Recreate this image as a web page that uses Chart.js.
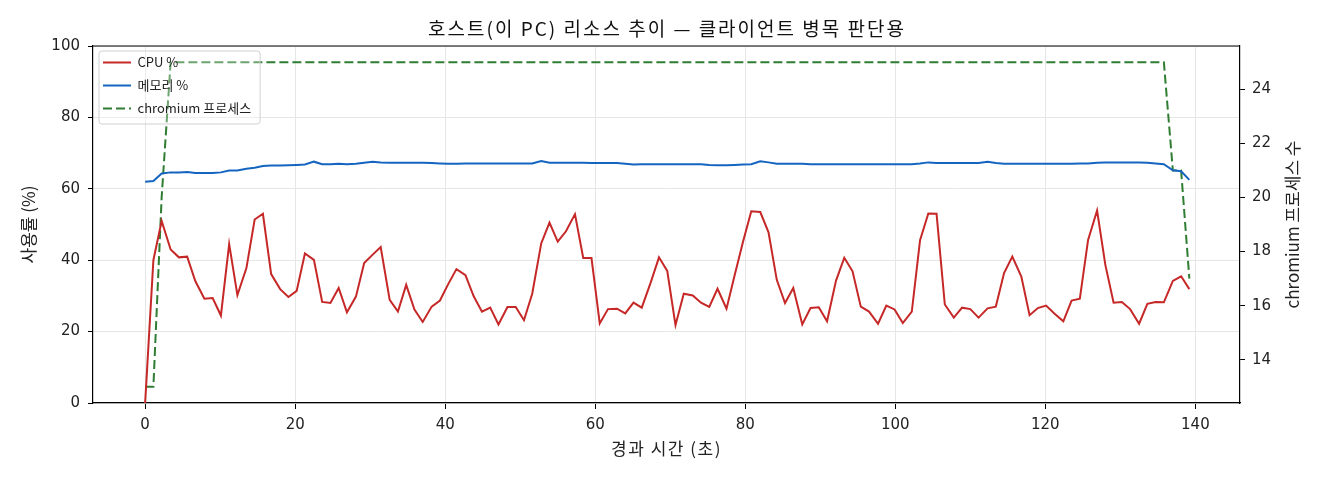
<!DOCTYPE html>
<html>
<head>
<meta charset="utf-8">
<script src="https://cdn.jsdelivr.net/npm/chart.js@4.4.1/dist/chart.umd.min.js"></script>
<style>
  html, body { margin: 0; background: #fff; }
  #wrap { width: 1320px; height: 480px; }
</style>
</head>
<body>
<div id="wrap"><canvas id="chart"></canvas></div>
<script>
// elapsed seconds of each sample
const times = [
  0.0, 1.1, 2.2, 3.4, 4.5, 5.6, 6.7, 7.9, 9.0, 10.1,
  11.2, 12.3, 13.5, 14.6, 15.7, 16.8, 18.0, 19.1, 20.2, 21.3,
  22.5, 23.6, 24.7, 25.8, 26.9, 28.1, 29.2, 30.3, 31.4, 32.6,
  33.7, 34.8, 35.9, 37.0, 38.2, 39.3, 40.4, 41.5, 42.7, 43.8,
  44.9, 46.0, 47.1, 48.3, 49.4, 50.5, 51.6, 52.8, 53.9, 55.0,
  56.1, 57.3, 58.4, 59.5, 60.6, 61.7, 62.9, 64.0, 65.1, 66.2,
  67.4, 68.5, 69.6, 70.7, 71.8, 73.0, 74.1, 75.2, 76.3, 77.5,
  78.6, 79.7, 80.8, 82.0, 83.1, 84.2, 85.3, 86.4, 87.6, 88.7,
  89.8, 90.9, 92.1, 93.2, 94.3, 95.4, 96.5, 97.7, 98.8, 99.9,
  101.0, 102.2, 103.3, 104.4, 105.5, 106.6, 107.8, 108.9, 110.0, 111.1,
  112.3, 113.4, 114.5, 115.6, 116.8, 117.9, 119.0, 120.1, 121.2, 122.4,
  123.5, 124.6, 125.7, 126.9, 128.0, 129.1, 130.2, 131.3, 132.5, 133.6,
  134.7, 135.8, 137.0, 138.1, 139.2
];

const cpuPct = [
  0, 40.0, 51.0, 43.0, 40.8, 41.0, 34.1, 29.2, 29.4, 24.5,
  44.5, 30.2, 37.8, 51.4, 53.0, 36.1, 31.9, 29.7, 31.4, 41.9,
  40.1, 28.3, 28.0, 32.2, 25.4, 29.8, 39.2, 41.5, 43.7, 28.9,
  25.6, 33.1, 26.2, 22.7, 27.0, 28.7, 33.3, 37.5, 35.8, 29.9,
  25.6, 26.7, 22.0, 26.9, 26.9, 23.2, 30.6, 44.7, 50.5, 45.2,
  48.1, 52.9, 40.6, 40.6, 22.3, 26.3, 26.4, 25.1, 28.1, 26.7,
  33.8, 40.8, 37.0, 21.8, 30.6, 30.1, 28.1, 26.9, 32.0, 26.4,
  35.9, 45.2, 53.7, 53.5, 47.8, 34.5, 28.0, 32.2, 22.0, 26.6,
  26.8, 22.9, 34.3, 40.7, 36.9, 27.0, 25.6, 22.2, 27.3, 26.2,
  22.4, 25.6, 45.6, 53.1, 53.0, 27.6, 23.9, 26.7, 26.3, 23.9,
  26.5, 27.0, 36.4, 41.0, 35.4, 24.6, 26.6, 27.3, 25.1, 22.9,
  28.7, 29.2, 45.7, 53.9, 38.7, 28.1, 28.3, 26.3, 22.2, 27.8,
  28.3, 28.2, 34.2, 35.5, 31.9
];

const memPct = [
  62.0, 62.2, 64.3, 64.6, 64.6, 64.7, 64.4, 64.4, 64.4, 64.6,
  65.1, 65.1, 65.6, 65.9, 66.4, 66.5, 66.5, 66.6, 66.7, 66.8,
  67.6, 66.9, 66.9, 67.0, 66.9, 67.0, 67.3, 67.6, 67.4, 67.3,
  67.3, 67.3, 67.3, 67.3, 67.2, 67.1, 67.0, 67.0, 67.1, 67.1,
  67.1, 67.1, 67.1, 67.1, 67.1, 67.1, 67.1, 67.8, 67.3, 67.3,
  67.3, 67.3, 67.3, 67.2, 67.2, 67.2, 67.2, 67.0, 66.8, 66.9,
  66.9, 66.9, 66.9, 66.9, 66.9, 66.9, 66.9, 66.7, 66.6, 66.6,
  66.7, 66.8, 66.9, 67.7, 67.4, 67.0, 67.0, 67.0, 67.0, 66.9,
  66.9, 66.9, 66.9, 66.9, 66.9, 66.9, 66.9, 66.9, 66.9, 66.9,
  66.9, 66.9, 67.1, 67.4, 67.2, 67.2, 67.2, 67.2, 67.2, 67.2,
  67.6, 67.2, 67.0, 67.0, 67.0, 67.0, 67.0, 67.0, 67.0, 67.0,
  67.0, 67.1, 67.1, 67.3, 67.4, 67.4, 67.4, 67.4, 67.4, 67.3,
  67.1, 66.9, 65.2, 64.9, 62.5
];

const chromiumCount = [
  13, 13, 20, 25, 25, 25, 25, 25, 25, 25,
  25, 25, 25, 25, 25, 25, 25, 25, 25, 25,
  25, 25, 25, 25, 25, 25, 25, 25, 25, 25,
  25, 25, 25, 25, 25, 25, 25, 25, 25, 25,
  25, 25, 25, 25, 25, 25, 25, 25, 25, 25,
  25, 25, 25, 25, 25, 25, 25, 25, 25, 25,
  25, 25, 25, 25, 25, 25, 25, 25, 25, 25,
  25, 25, 25, 25, 25, 25, 25, 25, 25, 25,
  25, 25, 25, 25, 25, 25, 25, 25, 25, 25,
  25, 25, 25, 25, 25, 25, 25, 25, 25, 25,
  25, 25, 25, 25, 25, 25, 25, 25, 25, 25,
  25, 25, 25, 25, 25, 25, 25, 25, 25, 25,
  25, 25, 21, 21, 17
];

const xTicks = [0, 20, 40, 60, 80, 100, 120, 140];
const pctTicks = [0, 20, 40, 60, 80, 100];
const procTicks = [14, 16, 18, 20, 22, 24];

const chartTitle = '호스트(이 PC) 리소스 추이 — 클라이언트 병목 판단용';
const xTitle = '경과 시간 (초)';
const yTitle = '사용률 (%)';
const y2Title = 'chromium 프로세스 수';

const KR = '"Noto Sans CJK KR", "Noto Sans", sans-serif';
const NUM = '"DejaVu Sans", "Noto Sans", sans-serif';
const INK = '#222';
const GRID = '#e6e6e6';

function toPoints(ys) {
  return times.map((t, i) => ({ x: t, y: ys[i] }));
}

// legend markers take the dataset's line style (dash included)
function legendLabels(chart) {
  const base = Chart.defaults.plugins.legend.labels.generateLabels(chart);
  return base.map(item => {
    const ds = chart.data.datasets[item.datasetIndex];
    item.strokeStyle = ds.borderColor;
    item.lineWidth = ds.borderWidth;
    item.lineDash = ds.borderDash || [];
    return item;
  });
}

// matplotlib style legend frame, drawn above the lines
function drawLegendFrame(chart) {
  const hb = chart.legend.legendHitBoxes;
  if (!hb || !hb.length) return;
  let l = Infinity, t = Infinity, r = -Infinity, b = -Infinity;
  hb.forEach(h => {
    l = Math.min(l, h.left); t = Math.min(t, h.top);
    r = Math.max(r, h.left + h.width); b = Math.max(b, h.top + h.height);
  });
  l -= 4; t -= 5; r += 9; b += 9;
  const ctx = chart.ctx;
  ctx.save();
  ctx.beginPath();
  ctx.roundRect(l, t, r - l, b - t, 3);
  ctx.fillStyle = 'rgba(255,255,255,0.3)';
  ctx.fill();
  ctx.strokeStyle = '#d0d0d0';
  ctx.lineWidth = 1;
  ctx.stroke();
  ctx.restore();
}

// draw a box's text with some extra letter spacing (and an x shift)
function spaced(obj, method, spacing, dx) {
  if (!obj || obj._spaced) return;
  const orig = obj[method];
  obj[method] = function () {
    const ctx = this.ctx;
    ctx.save();
    ctx.letterSpacing = spacing;
    ctx.translate(dx, 0);
    orig.apply(this, arguments);
    ctx.restore();
  };
  obj._spaced = true;
}

const extras = {
  id: 'extras',
  afterInit(chart) {
    const lg = chart.legend;
    if (lg) {
      lg._layers = () => [{ z: 1, draw: (area) => { drawLegendFrame(chart); lg.draw(area); } }];
    }
    spaced(chart.titleBlock, 'draw', '2px', 7);
  },
  afterUpdate(chart) {
    // the chartArea legend comes back with top = 0, pin it to the plot corner
    const lg = chart.legend, a = chart.chartArea;
    if (lg) {
      lg.fit();
      lg.left = a.left;
      lg.top = a.top;
      lg.bottom = a.top + lg.height;
      lg.right = a.left + lg.width;
      lg.adjustHitBoxes();
    }
    spaced(chart.scales.x, 'drawTitle', '1.5px', 0);
  },
  afterDraw(chart) {
    const { ctx, chartArea: a } = chart;
    ctx.save();
    // top spine
    ctx.strokeStyle = '#000';
    ctx.lineWidth = 1.2;
    ctx.beginPath();
    ctx.moveTo(a.left, a.top);
    ctx.lineTo(a.right, a.top);
    ctx.stroke();
    // right axis title, reading bottom to top
    ctx.fillStyle = INK;
    ctx.font = '17px ' + KR;
    ctx.textAlign = 'center';
    ctx.textBaseline = 'middle';
    ctx.translate(chart.scales.y2.right - 27, (a.top + a.bottom) / 2);
    ctx.rotate(-Math.PI / 2);
    ctx.fillText(y2Title, 0, 0);
    ctx.restore();
  }
};

new Chart(document.getElementById('chart'), {
  type: 'line',
  data: {
    datasets: [
      {
        label: 'CPU %',
        data: toPoints(cpuPct),
        yAxisID: 'y',
        borderColor: '#c62828',
        borderWidth: 2,
        pointRadius: 0,
        tension: 0
      },
      {
        label: '메모리 %',
        data: toPoints(memPct),
        yAxisID: 'y',
        borderColor: '#1565c0',
        borderWidth: 2,
        pointRadius: 0,
        tension: 0
      },
      {
        label: 'chromium 프로세스',
        data: toPoints(chromiumCount),
        yAxisID: 'y2',
        borderColor: '#2e7d32',
        borderWidth: 2,
        borderDash: [9, 4],
        pointRadius: 0,
        tension: 0
      }
    ]
  },
  options: {
    responsive: true,
    maintainAspectRatio: false,
    animation: false,
    layout: { padding: 0 },
    plugins: {
      title: {
        display: true,
        text: chartTitle,
        color: '#111',
        font: { family: KR, size: 19, weight: 'normal' },
        padding: { top: 17, bottom: 6.2 }
      },
      legend: {
        position: 'chartArea',
        align: 'start',
        labels: {
          usePointStyle: true,
          pointStyle: 'line',
          pointStyleWidth: 28,
          padding: 10,
          color: INK,
          font: { family: KR, size: 13 },
          generateLabels: legendLabels
        }
      },
      tooltip: { enabled: false }
    },
    scales: {
      x: {
        type: 'linear',
        min: -6.95,
        max: 145.95,
        afterFit: s => { s.height = 77; },
        afterBuildTicks: s => { s.ticks = xTicks.map(v => ({ value: v })); },
        ticks: { color: INK, font: { family: NUM, size: 15 }, padding: 7 },
        grid: { color: GRID, tickColor: '#000', tickLength: 6 },
        border: { color: '#000', width: 1.2 },
        title: {
          display: true, text: xTitle, color: INK,
          font: { family: KR, size: 17 },
          padding: { top: 0, bottom: 21 }
        }
      },
      y: {
        position: 'left',
        min: 0,
        max: 100,
        afterFit: s => { s.width = 93; },
        afterBuildTicks: s => { s.ticks = pctTicks.map(v => ({ value: v })); },
        ticks: { color: INK, font: { family: NUM, size: 15 }, padding: 8 },
        grid: { color: GRID, tickColor: '#000', tickLength: 5 },
        border: { color: '#000', width: 1.2 },
        title: {
          display: true, text: yTitle, color: INK,
          font: { family: KR, size: 17 },
          padding: { top: 18, bottom: 0 }
        }
      },
      y2: {
        position: 'right',
        min: 12.4,
        max: 25.6,
        afterFit: s => { s.width = 80; },
        afterBuildTicks: s => { s.ticks = procTicks.map(v => ({ value: v })); },
        ticks: { color: INK, font: { family: NUM, size: 15 }, padding: 7 },
        grid: { drawOnChartArea: false, tickColor: '#000', tickLength: 5 },
        border: { color: '#000', width: 1.2 }
      }
    }
  },
  plugins: [extras]
});
</script>
</body>
</html>
